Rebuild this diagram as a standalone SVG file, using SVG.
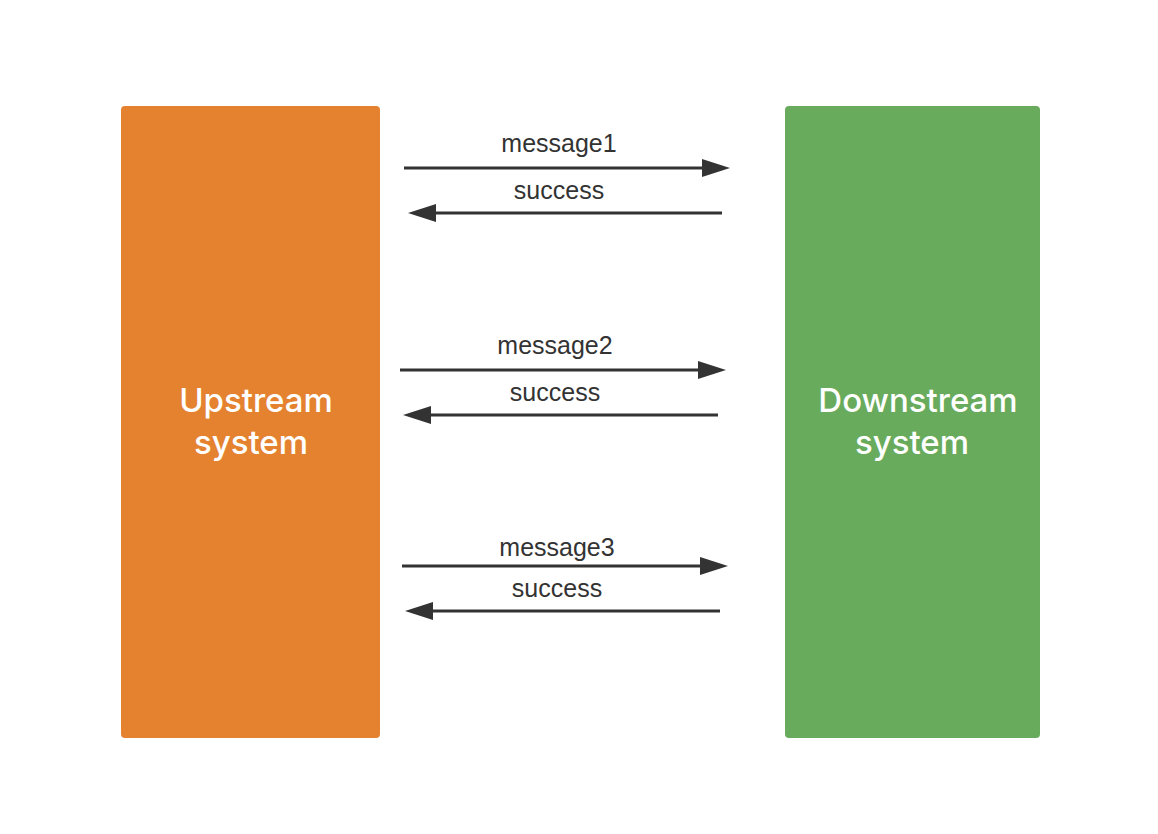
<svg xmlns="http://www.w3.org/2000/svg" width="1158" height="834" viewBox="0 0 1158 834">
<style>
.lbl{font-family:"Liberation Sans",Arial,sans-serif;font-size:25px;fill:#333;text-anchor:middle}
.big{font-family:Inter,"Liberation Sans",Arial,sans-serif;font-size:33px;font-weight:500;fill:#fff;text-anchor:middle}
.ln{stroke:#333;stroke-width:3;fill:none}
.hd{fill:#333}
</style>
<rect width="1158" height="834" fill="#fff"/>
<g id="upstream">
<rect x="121" y="106" width="259" height="632" rx="4" fill="#E48230"/>
<text class="big" x="256" y="412">Upstream</text>
<text class="big" x="251" y="454">system</text>
</g>
<g id="downstream">
<rect x="785" y="106" width="255" height="632" rx="4" fill="#68AB5C"/>
<text class="big" x="918" y="412">Downstream</text>
<text class="big" x="912" y="454">system</text>
</g>
<g id="connectors">
<line class="ln" x1="404" y1="168" x2="704" y2="168"/>
<polygon class="hd" points="730,168 702,159 702,177"/>
<text class="lbl" x="559" y="152">message1</text>
<line class="ln" x1="722" y1="213" x2="434" y2="213"/>
<polygon class="hd" points="408,213 436,204 436,222"/>
<text class="lbl" x="559" y="199">success</text>

<line class="ln" x1="400" y1="370" x2="700" y2="370"/>
<polygon class="hd" points="726,370 698,361 698,379"/>
<text class="lbl" x="555" y="354">message2</text>
<line class="ln" x1="718" y1="415" x2="430" y2="415"/>
<polygon class="hd" points="403,415 431,406 431,424"/>
<text class="lbl" x="555" y="401">success</text>

<line class="ln" x1="402" y1="566" x2="702" y2="566"/>
<polygon class="hd" points="728,566 700,557 700,575"/>
<text class="lbl" x="557" y="556">message3</text>
<line class="ln" x1="720" y1="611" x2="432" y2="611"/>
<polygon class="hd" points="405,611 433,602 433,620"/>
<text class="lbl" x="557" y="597">success</text>
</g>
</svg>
